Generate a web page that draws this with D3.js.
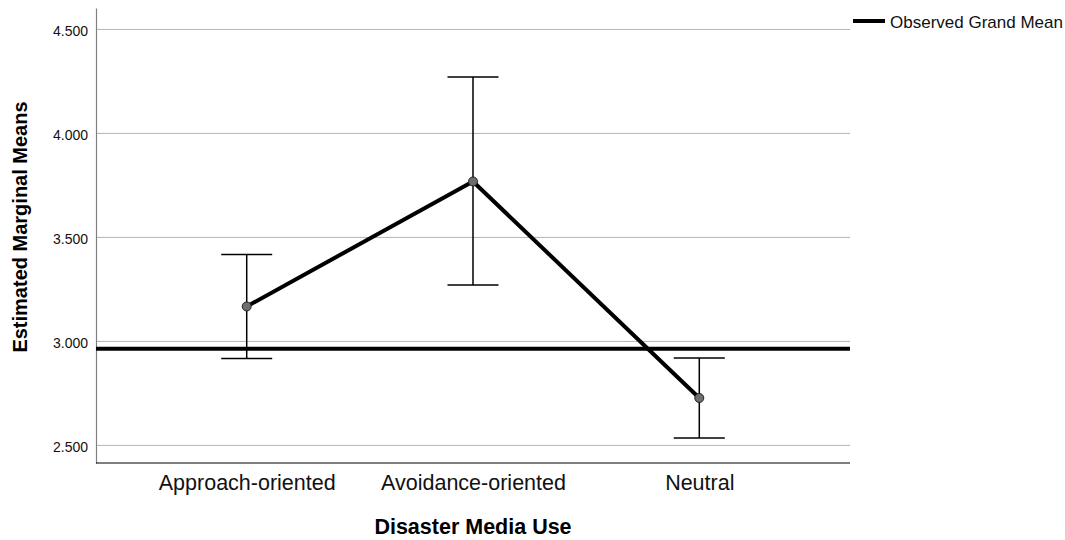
<!DOCTYPE html>
<html>
<head>
<meta charset="utf-8">
<script src="https://cdn.jsdelivr.net/npm/d3@7"></script>
<style>
  body { margin: 0; background: #fff; }
  text { font-family: Arial, "Liberation Sans", sans-serif; }
</style>
</head>
<body>
<div id="chart"></div>
<script>
// data
const categories = ["Approach-oriented", "Avoidance-oriented", "Neutral"];
const means = [3.168, 3.769, 2.728];
const lowerCI = [2.918, 3.271, 2.536];
const upperCI = [3.418, 4.271, 2.920];
const grandMean = 2.965;
const yTicks = [2.5, 3.0, 3.5, 4.0, 4.5];

const width = 1065, height = 540;
const margin = {left: 96, right: 215, top: 8, bottom: 77};

const svg = d3.select("#chart").append("svg")
  .attr("width", width).attr("height", height);

const x = d3.scalePoint()
  .domain(categories)
  .range([margin.left, width - margin.right])
  .padding(0.666);

const y = d3.scaleLinear()
  .domain([2.4154, 4.603])
  .range([height - margin.bottom, margin.top]);

// gridlines
svg.append("g")
  .selectAll("line")
  .data(yTicks)
  .join("line")
  .attr("x1", margin.left).attr("x2", width - margin.right)
  .attr("y1", d => y(d)).attr("y2", d => y(d))
  .attr("stroke", "#b4b4b4").attr("stroke-width", 1);

// y axis
const yAxis = d3.axisLeft(y).tickValues(yTicks).tickFormat(d3.format(".3f")).tickSize(0).tickPadding(8);
const gy = svg.append("g")
  .attr("transform", "translate(" + margin.left + ",0)")
  .call(yAxis);
gy.select(".domain").attr("stroke", "#808080").attr("stroke-width", 1.2);
gy.selectAll("text").attr("font-size", 14).attr("fill", "#111").attr("dy", "0.45em");

// x axis
const xAxis = d3.axisBottom(x).tickSize(0).tickPadding(12);
const gx = svg.append("g")
  .attr("transform", "translate(0," + (height - margin.bottom) + ")")
  .call(xAxis);
gx.select(".domain").attr("d", "M" + margin.left + ",0H" + (width - margin.right)).attr("stroke", "#000").attr("stroke-width", 1.2);
gx.selectAll("text").attr("font-size", 21.5).attr("fill", "#111");

// observed grand mean line
svg.append("line")
  .attr("x1", margin.left).attr("x2", width - margin.right)
  .attr("y1", y(grandMean)).attr("y2", y(grandMean))
  .attr("stroke", "#000").attr("stroke-width", 4);

// error bars
const capHalf = 25.5;
const bars = svg.append("g");
categories.forEach(function(c, i) {
  bars.append("line")
    .attr("x1", x(c)).attr("x2", x(c))
    .attr("y1", y(lowerCI[i])).attr("y2", y(upperCI[i]))
    .attr("stroke", "#000").attr("stroke-width", 1.5);
  [lowerCI[i], upperCI[i]].forEach(function(v) {
    bars.append("line")
      .attr("x1", x(c) - capHalf).attr("x2", x(c) + capHalf)
      .attr("y1", y(v)).attr("y2", y(v))
      .attr("stroke", "#000").attr("stroke-width", 1.5);
  });
});

// means line
const line = d3.line()
  .x((d, i) => x(categories[i]))
  .y(d => y(d));
svg.append("path")
  .datum(means)
  .attr("d", line)
  .attr("fill", "none")
  .attr("stroke", "#000")
  .attr("stroke-width", 4);

svg.selectAll("circle.pt")
  .data(means)
  .join("circle")
  .attr("class", "pt")
  .attr("cx", (d, i) => x(categories[i]))
  .attr("cy", d => y(d))
  .attr("r", 4.5)
  .attr("fill", "#6e6e6e")
  .attr("stroke", "#222")
  .attr("stroke-width", 1);

// axis titles
svg.append("text")
  .attr("transform", "translate(27," + 227 + ") rotate(-90)")
  .attr("text-anchor", "middle")
  .attr("font-size", 20).attr("font-weight", "bold")
  .text("Estimated Marginal Means");

svg.append("text")
  .attr("x", 473).attr("y", 534)
  .attr("text-anchor", "middle")
  .attr("font-size", 21.5).attr("font-weight", "bold")
  .text("Disaster Media Use");

// legend
svg.append("line")
  .attr("x1", 853).attr("x2", 885)
  .attr("y1", 21).attr("y2", 21)
  .attr("stroke", "#000").attr("stroke-width", 4);
svg.append("text")
  .attr("x", 890).attr("y", 28)
  .attr("font-size", 17).attr("fill", "#111")
  .text("Observed Grand Mean");
</script>
</body>
</html>
